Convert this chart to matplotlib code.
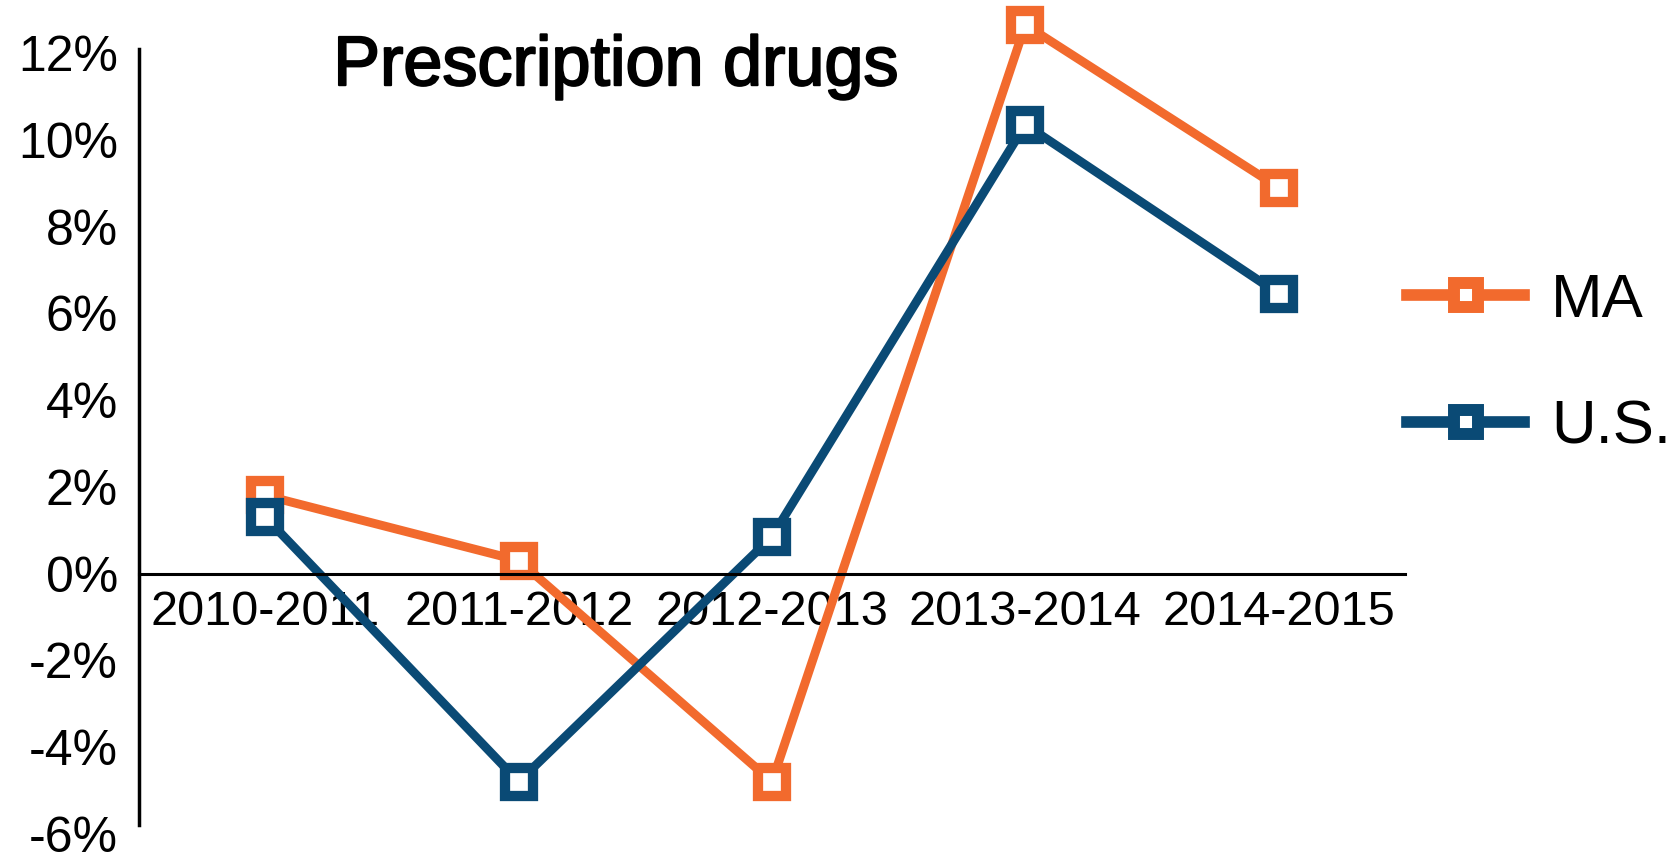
import matplotlib.pyplot as plt
import matplotlib.patheffects as pe
from matplotlib.lines import Line2D
from matplotlib.ticker import FuncFormatter

plt.rcParams['font.family'] = ['Liberation Sans', 'DejaVu Sans']

periods = ['2010-2011', '2011-2012', '2012-2013', '2013-2014', '2014-2015']
ma = [1.8, 0.3, -4.8, 12.65, 8.9]
us = [1.3, -4.8, 0.85, 10.35, 6.45]

orange = '#F26A2D'
navy = '#0A4A75'

fig = plt.figure(figsize=(16.71, 8.56), dpi=100)
ax = fig.add_axes([0.083, 0.026, 0.758, 0.912])

x = range(len(periods))
for vals, col in [(ma, orange), (us, navy)]:
    ax.plot(x, vals, color=col, lw=6.4, marker='s', ms=20, mew=7.4,
            mfc='white', mec=col, clip_on=False, solid_joinstyle='miter')

ax.set_xlim(-0.5, 4.5)
ax.set_ylim(-6, 12)
ax.set_yticks(range(-6, 13, 2))
ax.yaxis.set_major_formatter(FuncFormatter(lambda v, p: f'{v:.0f}%'))
ax.set_xticks(list(x))
ax.set_xticklabels(periods)

# x axis sits on the zero line
ax.spines['bottom'].set_position(('data', 0))
ax.spines['top'].set_visible(False)
ax.spines['right'].set_visible(False)
ax.spines['left'].set_bounds(-5.8, 12.1)
ax.spines['bottom'].set_linewidth(2.2)
ax.spines['left'].set_linewidth(2.5)
ax.tick_params(axis='x', length=0, labelsize=35, pad=12)
ax.tick_params(axis='y', length=0, labelsize=36, pad=15)

ax.text(0.268, 11.26, 'Prescription drugs', fontsize=50.5, ha='left',
        va='baseline',
        path_effects=[pe.withStroke(linewidth=1.5, foreground='black')])

handles = [Line2D([], [], color=c, lw=8.4, marker='s', ms=17, mew=8.6,
                  mfc='white', mec=c, solid_joinstyle='miter')
           for c in (orange, navy)]
fig.legend(handles, ['MA', 'U.S.'], loc='center left',
           bbox_to_anchor=(0.842, 0.574), frameon=False, fontsize=44.5,
           handlelength=1.9, labelspacing=1.13, handletextpad=0.43,
           borderpad=0, borderaxespad=0)

fig.savefig('out.png', dpi=100)
